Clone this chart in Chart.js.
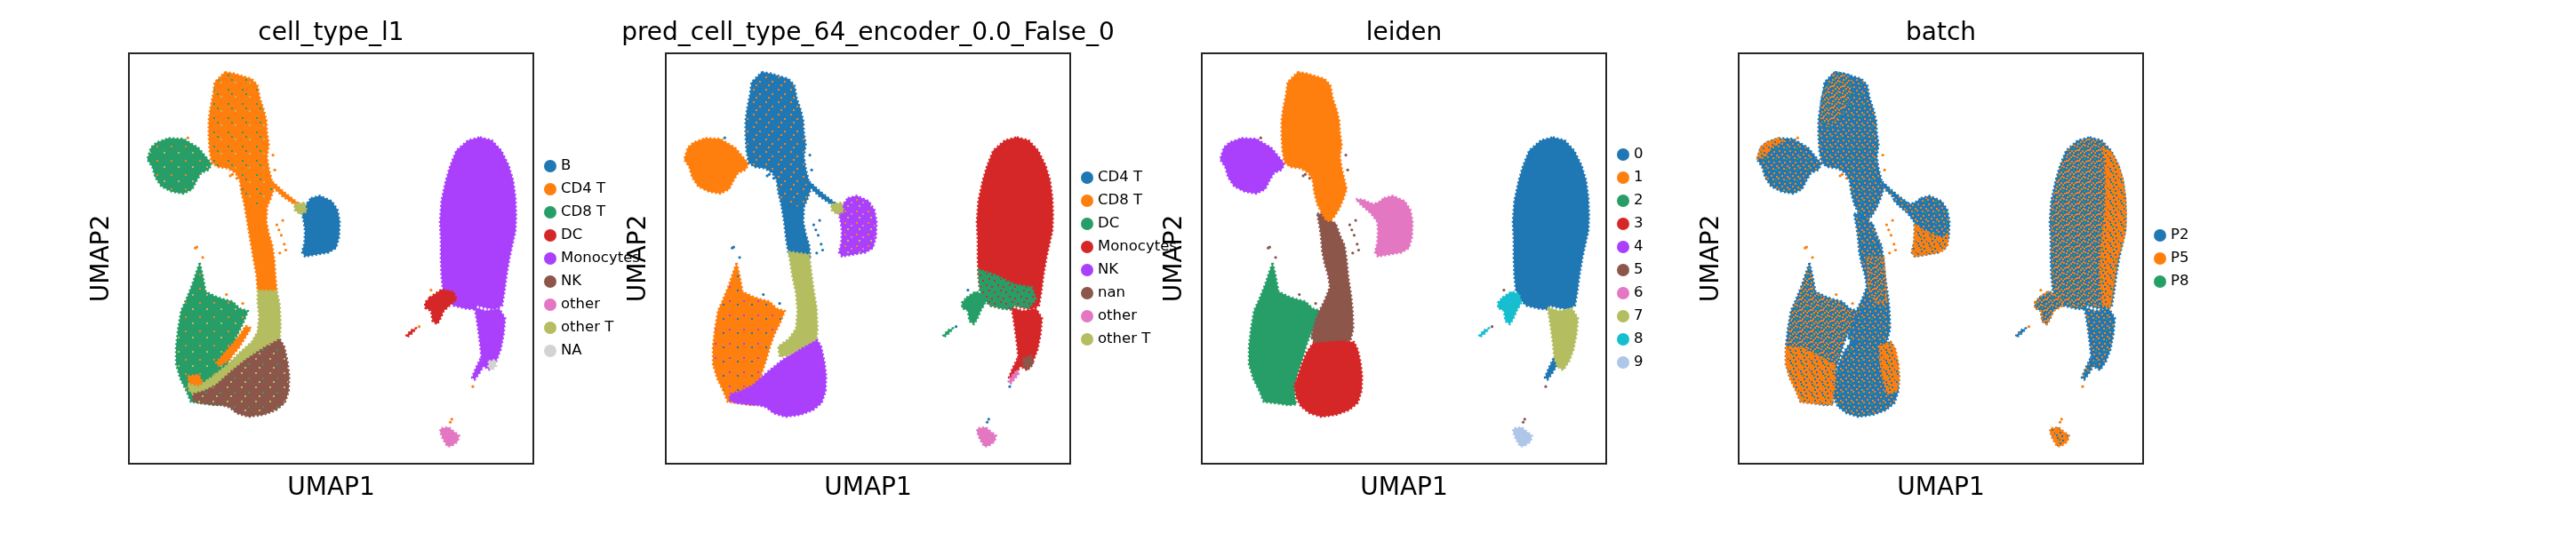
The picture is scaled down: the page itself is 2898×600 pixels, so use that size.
<!DOCTYPE html>
<html>
<head>
<meta charset="utf-8">
<title>UMAP panels</title>
<script src="https://cdn.jsdelivr.net/npm/chart.js@4.4.1/dist/chart.umd.min.js"></script>
<style>
  html, body { margin: 0; padding: 0; background: #fff; }
  body { position: relative; width: 2898px; height: 600px; overflow: hidden; font-family: "DejaVu Sans", sans-serif; }
  canvas.panel { position: absolute; top: 0; }
  .legend-row { position: absolute; height: 26px; display: flex; align-items: center; white-space: nowrap; font-size: 16.5px; color: #000; z-index: 5; }
  .legend-row .dot { width: 14px; height: 14px; border-radius: 50%; margin-right: 4.7px; flex: none; }
  .legend-row .lbl { position: relative; top: -1.5px; }
</style>
</head>
<body>
<canvas class="panel" id="p0" width="655" height="600"></canvas>
<canvas class="panel" id="p1" width="655" height="600"></canvas>
<canvas class="panel" id="p2" width="655" height="600"></canvas>
<canvas class="panel" id="p3" width="655" height="600"></canvas>
<script>
// Axis limits of the embedding (UMAP units)
const umap1Range = [0.06, 13.70];
const umap2Range = [0, 13.83];

// Legend categories
const cellTypeL1 = ['B', 'CD4 T', 'CD8 T', 'DC', 'Monocytes', 'NK', 'other', 'other T', 'NA'];
const predCellType = ['CD4 T', 'CD8 T', 'DC', 'Monocytes', 'NK', 'nan', 'other', 'other T'];
const leidenClusters = ['0', '1', '2', '3', '4', '5', '6', '7', '8', '9'];
const batchNames = ['P2', 'P5', 'P8'];
const panelTitles = ['cell_type_l1', 'pred_cell_type_64_encoder_0.0_False_0', 'leiden', 'batch'];

const stalkTop = [[3.30,13.20],[3.60,13.15],[4.20,12.97],[4.40,12.75],[4.48,12.30],[4.62,11.90],[4.70,11.55],[4.72,11.15],[4.78,10.75],[4.72,10.35],[4.78,9.95],[4.88,9.55],[4.95,9.25],[4.85,8.95],[4.70,8.60],[4.55,8.35],[4.40,8.17],[4.25,8.20],[4.10,8.45],[3.95,8.75],[3.85,9.15],[3.80,9.55],[3.65,9.80],[3.40,9.95],[3.05,10.00],[2.85,10.15],[2.78,10.55],[2.75,11.05],[2.75,11.55],[2.80,11.95],[2.90,12.45],[2.95,12.85]];
const leftBlob = [[1.40,10.97],[1.90,10.95],[2.15,10.80],[2.40,10.65],[2.65,10.35],[2.85,10.10],[2.75,9.90],[2.50,9.80],[2.35,9.55],[2.20,9.25],[1.90,9.10],[1.50,9.17],[1.15,9.35],[0.95,9.65],[0.85,10.00],[0.68,10.25],[0.80,10.65],[1.00,10.83]];
const bBlob = [[6.20,8.95],[6.50,9.03],[6.90,8.85],[7.10,8.55],[7.17,8.15],[7.15,7.65],[7.05,7.27],[6.80,7.12],[6.40,7.05],[6.00,6.98],[5.90,7.13],[5.98,7.45],[6.00,7.85],[5.98,8.15],[5.75,8.45],[5.45,8.70],[5.25,8.92],[5.50,8.90],[5.85,8.75],[6.05,8.83]];
const bCore = [[6.20,8.95],[6.50,9.03],[6.90,8.85],[7.10,8.55],[7.17,8.15],[7.15,7.65],[7.05,7.27],[6.80,7.12],[6.40,7.05],[6.00,6.98],[5.90,7.13],[5.98,7.45],[6.00,7.85],[5.95,8.20],[5.90,8.40],[6.05,8.75]];
const bBridge = [[4.80,9.60],[5.30,9.15],[5.75,8.80],[5.70,8.70],[5.25,9.00],[4.78,9.45]];
const bTailPatch = [[5.65,8.75],[6.00,8.80],[6.05,8.50],[5.85,8.40],[5.65,8.55]];
const stalkMid = [[3.95,8.43],[4.20,8.43],[4.40,8.20],[4.58,8.10],[4.72,7.70],[4.88,7.35],[4.95,6.85],[5.00,6.30],[5.10,5.65],[5.15,5.15],[5.17,4.55],[5.08,4.17],[4.80,4.07],[4.50,4.03],[4.20,4.07],[3.88,4.03],[3.75,4.27],[3.85,4.67],[4.00,5.10],[4.20,5.50],[4.38,5.95],[4.32,6.35],[4.20,6.75],[4.12,7.15],[4.08,7.65],[4.02,8.05]];
const nkBlob = [[3.80,4.05],[4.30,4.10],[4.80,4.13],[5.20,4.10],[5.32,3.85],[5.42,3.40],[5.47,2.95],[5.45,2.45],[5.32,2.05],[5.02,1.80],[4.60,1.65],[4.10,1.58],[3.70,1.70],[3.40,1.93],[3.25,2.23],[3.18,2.63],[3.30,2.95],[3.45,3.40],[3.60,3.75]];
const cd8Blob = [[2.45,6.77],[2.55,6.35],[2.65,5.80],[3.00,5.63],[3.30,5.53],[3.55,5.47],[3.80,5.23],[4.08,5.15],[3.92,4.75],[3.72,4.35],[3.58,3.95],[3.45,3.50],[3.30,3.05],[3.20,2.65],[3.20,2.25],[3.25,2.00],[3.00,1.97],[2.60,2.03],[2.15,2.08],[2.00,2.45],[1.80,2.85],[1.65,3.35],[1.65,3.95],[1.72,4.55],[1.82,5.15],[2.00,5.55],[2.20,6.05],[2.35,6.50]];
const monoBlob = [[11.90,11.00],[12.30,10.90],[12.62,10.55],[12.87,10.05],[13.02,9.55],[13.10,8.95],[13.12,8.35],[13.10,7.85],[13.00,7.40],[12.90,6.95],[12.80,6.35],[12.72,5.75],[12.65,5.33],[12.40,5.20],[12.10,5.25],[11.80,5.33],[11.70,5.20],[11.40,5.23],[11.00,5.33],[10.80,5.53],[10.65,5.85],[10.60,6.35],[10.58,6.95],[10.58,7.55],[10.55,8.15],[10.60,8.85],[10.75,9.55],[10.90,10.05],[11.10,10.55],[11.50,10.90]];
const monoTail = [[11.92,3.55],[12.05,3.33],[11.88,3.05],[11.72,2.83],[11.63,2.90],[11.75,3.20]];
const monoFoot = [[11.72,5.27],[12.10,5.15],[12.55,5.23],[12.75,4.90],[12.70,4.35],[12.60,3.85],[12.45,3.45],[12.25,3.15],[12.05,3.27],[11.95,3.55],[11.90,4.05],[11.82,4.65]];
const dcBlob = [[10.20,5.60],[10.50,5.80],[10.75,5.73],[10.85,5.45],[10.68,5.15],[10.55,4.85],[10.45,4.70],[10.30,4.80],[10.25,5.15],[10.05,5.25],[10.05,5.43]];
const dcTail = [[9.40,4.30],[9.58,4.50],[9.75,4.57],[9.62,4.40],[9.45,4.27]];
const otherBlob = [[10.60,1.20],[10.85,1.23],[11.00,1.10],[11.20,0.95],[11.15,0.75],[10.95,0.60],[10.80,0.58],[10.65,0.83],[10.55,1.10]];

// isolated cells outside the main outlines
const strayCells = [[2.35,7.30],[2.30,7.27],[3.55,9.75],[3.70,9.62],[3.48,9.70],[5.05,8.05],[5.20,7.70],[5.30,7.40],[5.15,7.10],[5.25,8.20],[5.12,7.88],[5.35,7.20],[4.98,9.90],[4.92,10.40],[2.05,10.98],[9.85,4.62],[10.25,5.85],[11.66,2.60],[10.90,1.40],[10.95,1.50],[2.55,6.95],[3.35,5.70],[3.90,5.40]];

// cell_type_l1 specific regions
const cd4Neck = [[3.95,8.75],[4.72,8.60],[4.70,8.15],[4.78,7.75],[4.90,7.35],[4.97,6.85],[5.00,6.35],[5.05,5.83],[4.70,5.77],[4.40,5.83],[4.36,6.35],[4.25,6.95],[4.15,7.55],[4.05,8.15]];
const cd4Streak = [[4.00,4.65],[4.18,4.57],[3.80,3.95],[3.40,3.45],[3.10,3.30],[3.00,3.40],[3.30,3.75],[3.70,4.20]];
const cd4Patch = [[2.05,2.95],[2.40,3.00],[2.55,2.75],[2.35,2.55],[2.10,2.65]];
const otherTBand = [[4.40,5.83],[5.05,5.83],[5.15,5.35],[5.18,4.65],[5.15,4.20],[4.60,3.90],[4.00,3.50],[3.50,3.10],[3.00,2.65],[2.60,2.45],[2.25,2.35],[2.10,2.45],[2.05,2.70],[2.40,2.60],[2.90,2.95],[3.40,3.35],[3.80,3.75],[4.20,4.10],[4.40,4.45],[4.45,4.95],[4.40,5.45]];
const nkBase = [[5.15,4.20],[5.30,3.95],[5.42,3.40],[5.47,2.95],[5.45,2.45],[5.32,2.05],[5.02,1.80],[4.60,1.65],[4.10,1.58],[3.70,1.70],[3.45,1.90],[3.20,1.97],[2.80,2.00],[2.40,2.05],[2.20,2.15],[2.25,2.35],[2.60,2.45],[3.00,2.65],[3.50,3.10],[4.00,3.50],[4.60,3.90]];
const dcWide = [[10.20,5.60],[10.60,5.87],[11.00,5.80],[11.12,5.55],[10.90,5.35],[10.68,5.15],[10.55,4.85],[10.45,4.70],[10.30,4.80],[10.25,5.15],[10.05,5.25],[10.05,5.43]];
const naPatch = [[12.20,3.45],[12.42,3.50],[12.45,3.30],[12.30,3.15],[12.18,3.25]];

// predicted labels specific regions
const neckShort = [[3.95,8.75],[4.72,8.60],[4.70,8.15],[4.78,7.75],[4.90,7.35],[4.93,6.98],[4.55,6.95],[4.20,7.05],[4.12,7.55],[4.05,8.15]];
const otherTStalk = [[4.20,7.15],[4.90,7.05],[4.97,6.45],[5.05,5.85],[5.15,5.25],[5.18,4.55],[5.15,4.20],[4.70,3.95],[4.20,3.65],[3.90,3.60],[3.85,3.95],[4.20,4.20],[4.45,4.55],[4.50,5.15],[4.45,5.75],[4.32,6.35]];
const dcSpread = [[10.60,6.55],[11.20,6.35],[11.80,6.05],[12.40,5.95],[12.55,5.55],[12.30,5.25],[11.80,5.33],[11.70,5.20],[11.40,5.23],[11.00,5.33],[10.80,5.53],[10.65,5.85]];
const nanPatch = [[12.10,3.55],[12.40,3.65],[12.45,3.35],[12.25,3.15],[12.12,3.30]];
const pinkTail = [[11.90,3.15],[11.98,3.05],[11.82,2.85],[11.68,2.68],[11.62,2.78],[11.75,2.98]];

// batch: areas where P5 cells dominate or mix evenly
const monoRight = [[12.35,10.65],[12.62,10.50],[12.87,10.05],[13.02,9.55],[13.10,8.95],[13.12,8.35],[13.10,7.85],[13.00,7.40],[12.85,6.95],[12.75,6.35],[12.65,5.65],[12.58,5.25],[12.35,5.35],[12.28,5.95],[12.25,6.75],[12.32,7.55],[12.40,8.35],[12.45,9.15],[12.42,9.95]];
const bLower = [[6.00,8.05],[6.40,7.80],[6.90,7.60],[7.12,7.75],[7.10,7.35],[6.90,7.15],[6.40,7.05],[6.00,6.98],[5.90,7.13],[5.98,7.50]];
const nkRight = [[4.80,3.95],[5.20,4.10],[5.35,3.85],[5.45,3.35],[5.47,2.85],[5.40,2.45],[5.10,2.35],[4.95,2.75],[4.85,3.35]];
const stalkMix = [[4.40,6.95],[4.95,6.95],[5.00,6.30],[5.05,5.45],[4.70,5.40],[4.45,5.90]];
const topMix = [[3.00,12.80],[3.30,13.20],[3.80,13.10],[3.90,12.50],[3.60,11.80],[3.20,11.40],[2.80,11.50],[2.85,12.30]];
const bottomLeftMix = [[1.65,3.95],[2.20,3.90],[2.80,3.60],[3.30,3.30],[3.30,2.60],[3.20,2.00],[2.60,2.03],[2.15,2.08],[2.00,2.45],[1.80,2.85],[1.65,3.35]];
const leftBlobRim = [[0.68,10.25],[0.80,10.65],[1.00,10.83],[1.40,10.97],[1.60,10.90],[1.20,10.70],[0.95,10.40]];
const monoLeftFoot = [[10.05,5.43],[10.20,5.60],[10.50,5.80],[10.90,5.60],[11.00,5.33],[10.68,5.15],[10.45,4.70],[10.30,4.80],[10.25,5.15],[10.05,5.25]];

// scanpy default palette
const palette = ['#1f77b4', '#ff7f0e', '#279e68', '#d62728', '#aa40fc', '#8c564b', '#e377c2', '#b5bd61', '#17becf', '#aec7e8'];
const naColor = '#d3d3d3';

// Layout (page pixels)
const FRAME_LEFT = [145, 749, 1352, 1956];
const PLOT_W = 455;
const FRAME_TOP = 60, FRAME_BOTTOM = 522;
const ROW_H = 26.1;
const FONT = 'DejaVu Sans';

// speckle textures so mixed regions look like overlapping dots
const tmpCtx = document.createElement('canvas').getContext('2d');
function speckle(base, spots, tile) {
  const c = document.createElement('canvas');
  c.width = c.height = tile;
  const g = c.getContext('2d');
  g.fillStyle = base;
  g.fillRect(0, 0, tile, tile);
  spots.forEach(([x, y, col]) => {
    g.fillStyle = col;
    g.fillRect(x, y, 2, 2);
  });
  return tmpCtx.createPattern(c, 'repeat');
}

function polygon(shape, color, fillStyle, i) {
  const pts = shape.concat([shape[0]]).map(([x, y]) => ({ x, y }));
  return {
    type: 'line',
    data: pts,
    fill: 'shape',
    backgroundColor: fillStyle || color,
    borderColor: color,
    borderWidth: 2.5,
    borderDash: [2, 2.5],
    borderJoinStyle: 'round',
    pointRadius: 0,
    tension: 0,
    order: -i,
  };
}

function strays(color, i) {
  return {
    type: 'scatter',
    data: strayCells.map(([x, y]) => ({ x, y })),
    backgroundColor: color,
    borderWidth: 0,
    pointRadius: 1.6,
    showLine: false,
    order: -i,
  };
}

function hiddenAxis(position, afterFit) {
  return {
    type: 'linear', position, min: 0, max: 1,
    ticks: { display: false },
    grid: { display: false, drawTicks: false },
    border: { display: true, color: '#262626', width: 2 },
    afterFit,
  };
}

function buildPanel(idx, title, labels, colors, strayColor, layers) {
  const canvas = document.getElementById('p' + idx);
  canvas.style.left = (FRAME_LEFT[idx] - 100) + 'px';
  const datasets = [strays(strayColor, 0)].concat(layers.map((l, i) => polygon(l.shape, l.color, l.fill, i + 1)));

  new Chart(canvas, {
    type: 'line',
    data: { datasets },
    options: {
      responsive: false,
      animation: false,
      devicePixelRatio: 1,
      events: [],
      layout: { padding: 0, autoPadding: false },
      plugins: {
        legend: { display: false },
        tooltip: { enabled: false },
        title: {
          display: true, text: title, color: '#000',
          font: { family: FONT, size: 28, weight: 'normal', lineHeight: 1.2 },
          padding: { top: 20.7, bottom: 5.7 },
        },
      },
      scales: {
        x: {
          type: 'linear', position: 'bottom', min: umap1Range[0], max: umap1Range[1],
          ticks: { display: false },
          grid: { display: false, drawTicks: false },
          border: { display: true, color: '#262626', width: 2 },
          title: { display: true, text: 'UMAP1', color: '#000', font: { family: FONT, size: 28, lineHeight: 1.2 }, padding: { top: 0, bottom: 33.2 } },
          afterFit: s => { s.height = 600 - FRAME_BOTTOM; },
        },
        y: {
          type: 'linear', position: 'left', min: umap2Range[0], max: umap2Range[1],
          ticks: { display: false },
          grid: { display: false, drawTicks: false },
          border: { display: true, color: '#262626', width: 2 },
          title: { display: true, text: 'UMAP2', color: '#000', font: { family: FONT, size: 28, lineHeight: 1.2 }, padding: { top: 53, bottom: 0 } },
          afterFit: s => { s.width = 100; },
        },
        x2: hiddenAxis('top', s => { s.height = 0; }),
        y2: hiddenAxis('right', s => { s.width = 100; }),
      },
    },
  });

  // legend to the right of the frame
  const frameRight = FRAME_LEFT[idx] + PLOT_W;
  const centerY = (FRAME_TOP + FRAME_BOTTOM) / 2;
  const n = labels.length;
  labels.forEach((label, i) => {
    const row = document.createElement('div');
    row.className = 'legend-row';
    row.style.left = (frameRight + 12.3) + 'px';
    row.style.top = (centerY + (i - (n - 1) / 2) * ROW_H - 13) + 'px';
    const dot = document.createElement('span');
    dot.className = 'dot';
    dot.style.background = colors[i];
    const txt = document.createElement('span');
    txt.className = 'lbl';
    txt.textContent = label;
    row.appendChild(dot);
    row.appendChild(txt);
    document.body.appendChild(row);
  });
}

// ---- panel 1: cell_type_l1
const c1 = palette.slice(0, 8).concat([naColor]);
const cd4Speck = speckle(c1[1], [[3, 4, c1[2]], [11, 12, c1[7]], [7, 9, c1[2]]], 16);
const cd8Speck = speckle(c1[2], [[3, 4, c1[1]], [11, 11, c1[7]]], 16);
const nkSpeck = speckle(c1[5], [[2, 3, c1[7]], [10, 9, c1[2]], [6, 13, c1[7]]], 16);
buildPanel(0, panelTitles[0], cellTypeL1, c1, c1[1], [
  { shape: cd8Blob, color: c1[2], fill: cd8Speck }, { shape: leftBlob, color: c1[2], fill: cd8Speck },
  { shape: monoBlob, color: c1[4] }, { shape: monoFoot, color: c1[4] }, { shape: monoTail, color: c1[4] },
  { shape: naPatch, color: c1[8] },
  { shape: dcWide, color: c1[3] }, { shape: dcTail, color: c1[3] },
  { shape: otherBlob, color: c1[6] },
  { shape: bCore, color: c1[0] },
  { shape: stalkTop, color: c1[1], fill: cd4Speck }, { shape: cd4Neck, color: c1[1] },
  { shape: bBridge, color: c1[1] }, { shape: cd4Streak, color: c1[1] }, { shape: cd4Patch, color: c1[1] },
  { shape: otherTBand, color: c1[7] }, { shape: bTailPatch, color: c1[7] },
  { shape: nkBase, color: c1[5], fill: nkSpeck },
]);

// ---- panel 2: predicted cell type
const c2 = palette.slice(0, 8);
const blueSpeck = speckle(c2[0], [[2, 2, c2[1]], [9, 7, c2[1]], [5, 11, c2[1]]], 14);
const orangeSpeck = speckle(c2[1], [[4, 6, c2[0]], [11, 2, c2[4]]], 16);
const greenSpeck = speckle(c2[2], [[1, 3, c2[3]], [8, 1, c2[3]], [5, 8, c2[3]], [11, 10, c2[3]]], 13);
const purpleSpeck = speckle(c2[4], [[2, 3, c2[1]], [9, 6, c2[6]], [5, 10, c2[7]]], 13);
buildPanel(1, panelTitles[1], predCellType, c2, c2[0], [
  { shape: cd8Blob, color: c2[1], fill: orangeSpeck }, { shape: leftBlob, color: c2[1] },
  { shape: monoBlob, color: c2[3] }, { shape: monoFoot, color: c2[3] }, { shape: monoTail, color: c2[3] },
  { shape: dcSpread, color: c2[2], fill: greenSpeck }, { shape: dcBlob, color: c2[2] }, { shape: dcTail, color: c2[2] },
  { shape: nanPatch, color: c2[5] }, { shape: pinkTail, color: c2[6] }, { shape: otherBlob, color: c2[6] },
  { shape: bCore, color: c2[4], fill: purpleSpeck }, { shape: nkBase, color: c2[4] },
  { shape: stalkTop, color: c2[0], fill: blueSpeck }, { shape: neckShort, color: c2[0] }, { shape: bBridge, color: c2[0] },
  { shape: otherTStalk, color: c2[7] }, { shape: bTailPatch, color: c2[7] },
]);

// ---- panel 3: leiden
const c3 = palette;
buildPanel(2, panelTitles[2], leidenClusters, c3, c3[5], [
  { shape: monoBlob, color: c3[0] }, { shape: monoTail, color: c3[0] }, { shape: monoFoot, color: c3[7] },
  { shape: dcBlob, color: c3[8] }, { shape: dcTail, color: c3[8] }, { shape: otherBlob, color: c3[9] },
  { shape: cd8Blob, color: c3[2] }, { shape: leftBlob, color: c3[4] }, { shape: bBlob, color: c3[6] },
  { shape: stalkMid, color: c3[5] }, { shape: stalkTop, color: c3[1] }, { shape: nkBlob, color: c3[3] },
]);

// ---- panel 4: batch
const c4 = palette.slice(0, 3);
const p2Mix = speckle(c4[0], [[1, 1, c4[1]], [7, 2, c4[1]], [4, 5, c4[1]], [10, 6, c4[1]], [0, 8, c4[1]], [6, 9, c4[1]], [9, 10, c4[2]]], 12);
const evenMix = speckle(c4[0], [[0, 0, c4[1]], [2, 0, c4[1]], [6, 1, c4[1]], [4, 3, c4[1]], [8, 3, c4[1]], [1, 5, c4[1]], [3, 5, c4[2]], [7, 6, c4[1]], [9, 7, c4[1]], [0, 8, c4[1]], [5, 8, c4[1]], [3, 10, c4[1]], [8, 10, c4[2]], [10, 1, c4[1]]], 12);
const p5Mix = speckle(c4[1], [[2, 0, c4[0]], [8, 3, c4[0]], [5, 6, c4[0]], [11, 7, c4[0]], [1, 9, c4[0]], [7, 10, c4[0]], [4, 2, c4[2]]], 12);
buildPanel(3, panelTitles[3], batchNames, c4, c4[1], [
  { shape: stalkMid, color: c4[0], fill: p2Mix }, { shape: stalkTop, color: c4[0], fill: p2Mix },
  { shape: leftBlob, color: c4[0], fill: p2Mix }, { shape: bBlob, color: c4[0], fill: p2Mix },
  { shape: bBridge, color: c4[0], fill: p2Mix }, { shape: cd8Blob, color: c4[0], fill: evenMix },
  { shape: nkBlob, color: c4[0], fill: p2Mix }, { shape: monoBlob, color: c4[0], fill: evenMix },
  { shape: monoFoot, color: c4[0], fill: p2Mix }, { shape: monoTail, color: c4[0], fill: p2Mix },
  { shape: dcBlob, color: c4[0], fill: p2Mix }, { shape: dcTail, color: c4[0], fill: p2Mix },
  { shape: otherBlob, color: c4[1], fill: p5Mix },
  { shape: topMix, color: c4[0], fill: evenMix }, { shape: stalkMix, color: c4[1], fill: evenMix },
  { shape: leftBlobRim, color: c4[1], fill: p5Mix }, { shape: monoLeftFoot, color: c4[1], fill: evenMix },
  { shape: bLower, color: c4[1], fill: p5Mix }, { shape: nkRight, color: c4[1], fill: p5Mix },
  { shape: bottomLeftMix, color: c4[1], fill: p5Mix }, { shape: monoRight, color: c4[1], fill: p5Mix },
]);
</script>
</body>
</html>
